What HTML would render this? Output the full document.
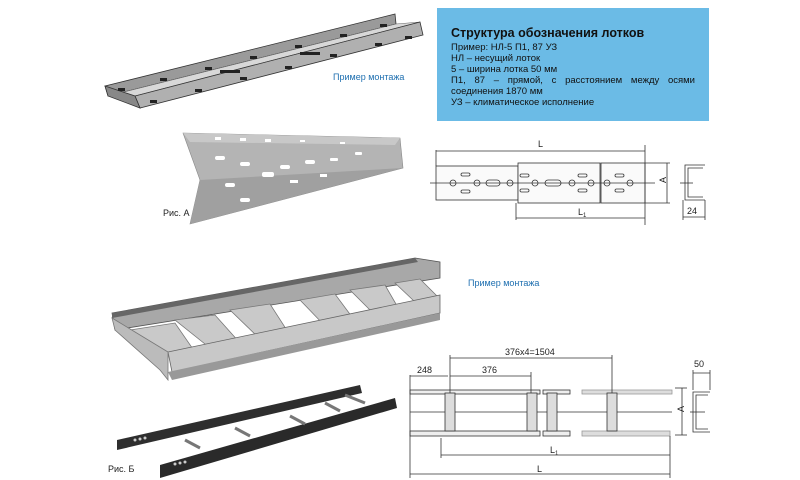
<!DOCTYPE html>
<html><head><meta charset="utf-8"><style>
body{margin:0;width:800px;height:480px;background:#fff;overflow:hidden;position:relative;font-family:"Liberation Sans",sans-serif}
.box{position:absolute;left:437px;top:8px;width:272px;height:113px;background:#6bbbe6;color:#111}
.box h1{font-size:12.5px;font-weight:bold;margin:18px 0 2px 14px}
.box p{font-size:9.5px;margin:0 14px;line-height:11px;text-align:justify}
.lbl{position:absolute;font-size:9px;color:#1e6fb0}
.cap{position:absolute;font-size:9px;color:#222}
</style></head><body>
<svg width="800" height="480" style="position:absolute;left:0;top:0" font-family="Liberation Sans, sans-serif">
<!-- top tray -->
<polygon points="105,86 395,14 396,24 108,96" fill="#9a9a9a" stroke="#333" stroke-width="0.8"/>
<polygon points="108,96 396,24 420,22 135,96" fill="#d8d8d8" stroke="#666" stroke-width="0.5"/>
<polygon points="135,96 420,22 423,35 140,108" fill="#b0b0b0" stroke="#333" stroke-width="0.8"/>
<polygon points="105,86 108,96 140,108 135,96" fill="#888" stroke="#333" stroke-width="0.8"/>
<g fill="#222">
<rect x="118" y="88" width="7" height="3"/><rect x="160" y="78" width="7" height="3"/><rect x="205" y="67" width="7" height="3"/><rect x="250" y="56" width="7" height="3"/><rect x="295" y="45" width="7" height="3"/><rect x="340" y="34" width="7" height="3"/><rect x="380" y="24" width="7" height="3"/>
<rect x="150" y="100" width="7" height="3"/><rect x="195" y="89" width="7" height="3"/><rect x="240" y="77" width="7" height="3"/><rect x="285" y="66" width="7" height="3"/><rect x="330" y="54" width="7" height="3"/><rect x="375" y="43" width="7" height="3"/><rect x="405" y="36" width="7" height="3"/>
<rect x="220" y="70" width="20" height="3"/><rect x="300" y="52" width="20" height="3"/>
</g>
<!-- Рис А tray -->
<polygon points="183,133 400,138 403,168 190,224 200,180" fill="#b4b4b4" stroke="#888" stroke-width="0.6"/>
<polygon points="200,180 403,168 190,224" fill="#a0a0a0"/>
<polygon points="183,133 400,138 395,145 190,142" fill="#c8c8c8"/>
<g fill="#fff">
<rect x="215" y="156" width="10" height="4" rx="2"/><rect x="240" y="162" width="10" height="4" rx="2"/><rect x="262" y="172" width="12" height="5" rx="2"/><rect x="280" y="165" width="10" height="4" rx="2"/><rect x="305" y="160" width="10" height="4" rx="2"/><rect x="330" y="158" width="8" height="3" rx="1"/><rect x="355" y="152" width="7" height="3" rx="1"/><rect x="225" y="183" width="10" height="4" rx="2"/><rect x="240" y="198" width="10" height="4" rx="2"/><rect x="290" y="180" width="8" height="3"/><rect x="320" y="174" width="7" height="3"/>
<rect x="215" y="137" width="6" height="3"/><rect x="240" y="138" width="6" height="3"/><rect x="265" y="139" width="6" height="3"/><rect x="300" y="140" width="5" height="2"/><rect x="340" y="142" width="5" height="2"/>
</g>
<!-- ladder top -->
<polygon points="112,313 415,258 440,262 440,278 115,330" fill="#a8a8a8" stroke="#555" stroke-width="0.8"/>
<polygon points="112,313 415,258 418,262 112,318" fill="#666"/>
<g fill="#c9c9c9" stroke="#777" stroke-width="0.8">
<polygon points="130,330 175,323 195,352 168,355"/>
<polygon points="175,320 215,315 240,343 210,348"/>
<polygon points="230,310 270,304 290,335 260,339"/>
<polygon points="300,300 335,294 355,321 325,326"/>
<polygon points="350,290 385,285 400,311 375,315"/>
<polygon points="395,283 420,279 438,297 415,302"/>
</g>
<polygon points="168,352 440,295 440,313 172,372" fill="#c8c8c8" stroke="#666" stroke-width="0.8"/>
<polygon points="168,372 172,380 440,320 440,313" fill="#999"/>
<polygon points="112,318 168,352 168,380 160,370 115,330" fill="#bbb" stroke="#777" stroke-width="0.8"/>
<!-- dark ladder -->
<polygon points="117,440 360,385 362,393 117,450" fill="#2e2e2e"/>
<polygon points="160,465 395,398 397,408 160,478" fill="#2a2a2a"/>
<g stroke="#777" stroke-width="3">
<line x1="185" y1="440" x2="200" y2="448"/><line x1="235" y1="428" x2="250" y2="436"/><line x1="290" y1="416" x2="305" y2="424"/><line x1="325" y1="403" x2="340" y2="411"/><line x1="345" y1="395" x2="365" y2="403"/>
</g>
<g fill="#ccc"><circle cx="135" cy="440" r="1.5"/><circle cx="140" cy="439" r="1.5"/><circle cx="145" cy="438" r="1.5"/><circle cx="175" cy="464" r="1.5"/><circle cx="180" cy="463" r="1.5"/><circle cx="185" cy="462" r="1.5"/></g>

<!-- drawing 1 -->
<g stroke="#333" stroke-width="0.8" fill="none">
<rect x="436" y="166" width="82" height="34" fill="#fafafa"/>
<rect x="518" y="163" width="82" height="40" fill="#fafafa"/>
<rect x="601" y="163" width="44" height="40" fill="#fafafa"/>
<line x1="430" y1="183" x2="655" y2="183"/>
<line x1="436" y1="150" x2="436" y2="166"/><line x1="645" y1="145" x2="645" y2="225"/>
<line x1="436" y1="151" x2="645" y2="151"/>
<line x1="516" y1="203" x2="516" y2="220"/><line x1="516" y1="218" x2="645" y2="218"/>
<line x1="645" y1="163" x2="670" y2="163"/><line x1="645" y1="203" x2="670" y2="203"/><line x1="667" y1="163" x2="667" y2="203"/>
<path d="M705,165 H685 V200 H705 M703,168 H688 V197 H703" />
<line x1="680" y1="183" x2="693" y2="183"/>
<line x1="683" y1="200" x2="683" y2="220"/><line x1="705" y1="200" x2="705" y2="220"/><line x1="683" y1="217" x2="705" y2="217"/>
<g>
<circle cx="453" cy="183" r="3"/><circle cx="477" cy="183" r="3"/><rect x="486" y="180" width="14" height="6" rx="3"/><circle cx="510" cy="183" r="3"/><circle cx="535" cy="183" r="3"/><rect x="545" y="180" width="16" height="6" rx="3"/><circle cx="572" cy="183" r="3"/><circle cx="591" cy="183" r="3"/><circle cx="607" cy="183" r="3"/><circle cx="630" cy="183" r="3"/>
<rect x="461" y="173" width="9" height="3" rx="1.5"/><rect x="461" y="190" width="9" height="3" rx="1.5"/>
<rect x="520" y="174" width="9" height="3" rx="1.5"/><rect x="520" y="189" width="9" height="3" rx="1.5"/>
<rect x="578" y="174" width="9" height="3" rx="1.5"/><rect x="578" y="189" width="9" height="3" rx="1.5"/>
<rect x="615" y="174" width="9" height="3" rx="1.5"/><rect x="615" y="189" width="9" height="3" rx="1.5"/>
</g>
</g>
<g font-size="9" fill="#222"><text x="538" y="147">L</text><text x="578" y="215">L<tspan font-size="6" dy="2">1</tspan></text><text x="663" y="186" transform="rotate(-90 663 183)">A</text><text x="687" y="214">24</text></g>

<!-- drawing 2 -->
<g stroke="#333" stroke-width="0.8" fill="none">
<rect x="410" y="390" width="130" height="4" fill="#eee"/><rect x="543" y="390" width="27" height="4" fill="#eee"/><rect x="582" y="390" width="90" height="4" fill="#ddd" stroke="#999"/>
<rect x="410" y="431" width="130" height="5" fill="#eee"/><rect x="543" y="431" width="27" height="5" fill="#eee"/><rect x="582" y="431" width="88" height="5" fill="#ddd" stroke="#999"/>
<line x1="410" y1="412" x2="672" y2="412"/>
<line x1="410" y1="375" x2="410" y2="478"/><line x1="410" y1="376" x2="448" y2="376"/>
<line x1="450" y1="355" x2="450" y2="393"/><line x1="450" y1="358" x2="612" y2="358"/><line x1="612" y1="355" x2="612" y2="393"/>
<line x1="450" y1="376" x2="531" y2="376"/><line x1="531" y1="372" x2="531" y2="393"/>
<line x1="441" y1="438" x2="441" y2="458"/><line x1="441" y1="455" x2="670" y2="455"/><line x1="670" y1="436" x2="670" y2="478"/>
<line x1="410" y1="474" x2="670" y2="474"/>
<line x1="675" y1="388" x2="687" y2="388"/><line x1="675" y1="435" x2="687" y2="435"/><line x1="682" y1="388" x2="682" y2="435"/>
<path d="M710,392 H693 V432 H710 M708,395 H696 V429 H708"/>
<line x1="690" y1="412" x2="705" y2="412"/>
<line x1="693" y1="370" x2="693" y2="390"/><line x1="710" y1="370" x2="710" y2="390"/><line x1="693" y1="373" x2="710" y2="373"/>
</g>
<g fill="#ddd" stroke="#333" stroke-width="0.8">
<rect x="445" y="393" width="10" height="38"/><rect x="527" y="393" width="10" height="38"/><rect x="547" y="393" width="10" height="38"/><rect x="607" y="393" width="10" height="38"/>
</g>
<g font-size="9" fill="#222"><text x="417" y="373">248</text><text x="482" y="373">376</text><text x="505" y="355">376x4=1504</text><text x="550" y="453">L<tspan font-size="6" dy="2">1</tspan></text><text x="537" y="472">L</text><text x="681" y="415" transform="rotate(-90 681 412)">A</text><text x="694" y="367">50</text></g>
</svg>
<div class="box"><h1>Структура обозначения лотков</h1>
<p>Пример: НЛ-5 П1, 87 УЗ<br>НЛ – несущий лоток<br>5 – ширина лотка 50 мм</p>
<p>П1, 87 – прямой, с расстоянием между осями соединения 1870 мм</p>
<p>УЗ – климатическое исполнение</p></div>
<div class="lbl" style="left:333px;top:72px">Пример монтажа</div>
<div class="lbl" style="left:468px;top:278px">Пример монтажа</div>
<div class="cap" style="left:163px;top:208px">Рис. А</div>
<div class="cap" style="left:108px;top:464px">Рис. Б</div>
</body></html>
